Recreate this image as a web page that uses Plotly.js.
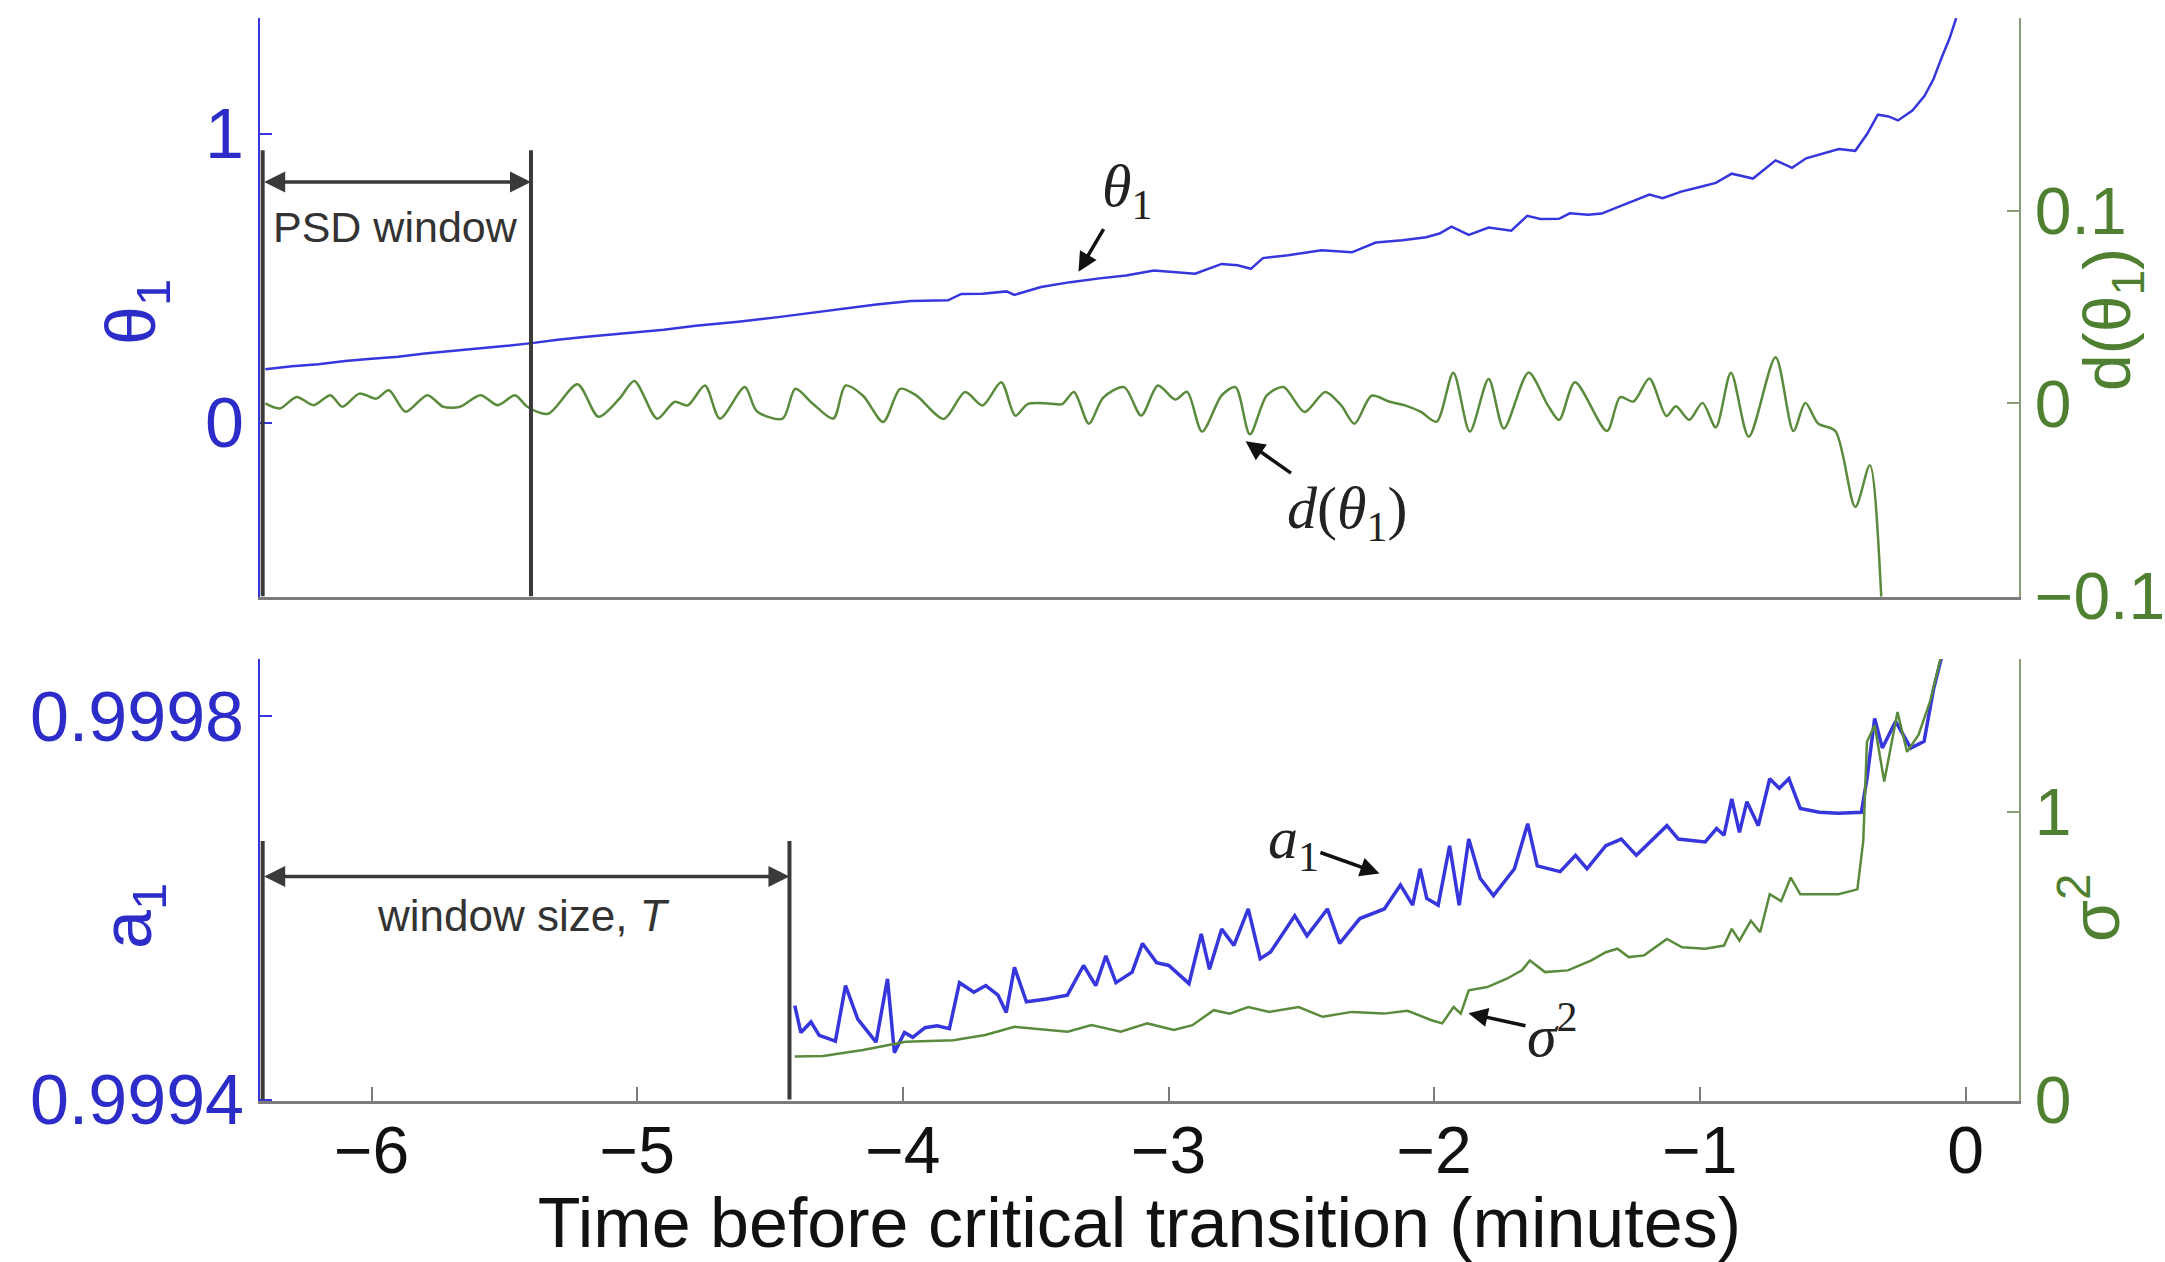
<!DOCTYPE html>
<html>
<head>
<meta charset="utf-8">
<script src="https://cdn.plot.ly/plotly-3.0.1.min.js"></script>
<style>html,body{margin:0;padding:0;background:#fff;}#chart{width:2165px;height:1262px;}</style>
</head>
<body>
<div id="chart"></div>
<script>
// ---- data ----
const thetaTime = [-6.40,-6.30,-6.20,-6.10,-6.00,-5.90,-5.80,-5.70,-5.60,-5.50,-5.39,-5.30,-5.20,-5.10,-5.02,-4.90,-4.78,-4.70,-4.62,-4.47,-4.35,-4.23,-4.10,-3.97,-3.83,-3.78,-3.70,-3.61,-3.58,-3.48,-3.37,-3.26,-3.16,-3.055,-2.97,-2.90,-2.80,-2.74,-2.69,-2.645,-2.55,-2.424,-2.31,-2.22,-2.12,-2.03,-1.98,-1.935,-1.87,-1.795,-1.71,-1.65,-1.60,-1.53,-1.49,-1.42,-1.37,-1.28,-1.19,-1.14,-1.07,-1.00,-0.94,-0.88,-0.80,-0.715,-0.653,-0.60,-0.54,-0.477,-0.415,-0.37,-0.33,-0.29,-0.254,-0.20,-0.154,-0.12,-0.09,-0.06,-0.035];
const theta1 = [0.186,0.196,0.203,0.214,0.222,0.229,0.240,0.248,0.258,0.266,0.277,0.288,0.297,0.305,0.312,0.322,0.336,0.342,0.350,0.366,0.380,0.395,0.410,0.422,0.424,0.446,0.447,0.455,0.443,0.470,0.487,0.500,0.510,0.527,0.522,0.516,0.550,0.545,0.533,0.570,0.580,0.597,0.590,0.624,0.632,0.642,0.655,0.679,0.650,0.676,0.665,0.716,0.705,0.706,0.725,0.720,0.724,0.757,0.790,0.777,0.800,0.816,0.830,0.862,0.845,0.908,0.882,0.915,0.930,0.947,0.941,1.000,1.066,1.060,1.046,1.080,1.131,1.190,1.263,1.330,1.400];

const dTime = [-6.40,-6.346,-6.282,-6.218,-6.155,-6.11,-6.046,-5.982,-5.935,-5.872,-5.79,-5.73,-5.667,-5.59,-5.525,-5.46,-5.414,-5.335,-5.225,-5.146,-5.067,-5.011,-4.925,-4.86,-4.81,-4.745,-4.689,-4.595,-4.55,-4.453,-4.405,-4.34,-4.262,-4.216,-4.15,-4.074,-4.01,-3.95,-3.846,-3.766,-3.70,-3.63,-3.577,-3.53,-3.45,-3.40,-3.356,-3.30,-3.246,-3.167,-3.103,-3.04,-2.975,-2.93,-2.874,-2.80,-2.748,-2.694,-2.63,-2.567,-2.488,-2.41,-2.35,-2.30,-2.236,-2.17,-2.11,-2.05,-1.991,-1.928,-1.866,-1.795,-1.738,-1.645,-1.572,-1.53,-1.47,-1.35,-1.30,-1.25,-1.19,-1.126,-1.09,-1.04,-0.99,-0.94,-0.883,-0.816,-0.715,-0.648,-0.603,-0.555,-0.49,-0.415,-0.36,-0.317,-0.31];
const dTheta1 = [0.0000,-0.0026,0.0034,-0.0009,0.0043,-0.0017,0.0051,0.0025,0.0068,-0.0043,0.0043,-0.0017,-0.0017,0.0043,-0.0009,0.0043,-0.0017,-0.0053,0.0100,-0.0069,0.0025,0.0117,-0.0079,0.0008,-0.0010,0.0093,-0.0079,0.0085,-0.0040,-0.0079,0.0076,0.0000,-0.0079,0.0093,0.0040,-0.0096,0.0076,0.0042,-0.0080,0.0059,-0.0010,0.0110,-0.0063,-0.0003,0.0000,-0.0003,0.0060,-0.0105,0.0030,0.0085,-0.0063,0.0093,0.0020,0.0060,-0.0146,0.0042,0.0085,-0.0160,0.0042,0.0085,-0.0044,0.0060,-0.0010,-0.0105,0.0040,0.0010,-0.0010,-0.0044,-0.0095,0.0160,-0.0146,0.0127,-0.0130,0.0160,-0.0010,-0.0085,0.0110,-0.0143,0.0033,0.0010,0.0130,-0.0065,-0.0015,-0.0085,0.0003,-0.0124,0.0160,-0.0173,0.0240,-0.0143,0.0003,-0.0104,-0.0143,-0.0537,-0.0320,-0.1004,-0.1300];

const aTime = [-4.407,-4.384,-4.346,-4.315,-4.254,-4.216,-4.17,-4.131,-4.101,-4.058,-4.032,-3.994,-3.963,-3.917,-3.871,-3.825,-3.787,-3.733,-3.688,-3.642,-3.611,-3.58,-3.535,-3.458,-3.381,-3.32,-3.274,-3.236,-3.198,-3.137,-3.098,-3.045,-2.999,-2.923,-2.877,-2.846,-2.80,-2.754,-2.70,-2.655,-2.616,-2.525,-2.479,-2.402,-2.356,-2.28,-2.188,-2.127,-2.081,-2.053,-2.028,-1.985,-1.942,-1.906,-1.87,-1.827,-1.777,-1.698,-1.648,-1.612,-1.526,-1.468,-1.425,-1.354,-1.296,-1.239,-1.124,-1.081,-0.98,-0.937,-0.909,-0.88,-0.851,-0.823,-0.78,-0.737,-0.701,-0.665,-0.622,-0.55,-0.478,-0.392,-0.371,-0.342,-0.313,-0.263,-0.206,-0.156,-0.12,-0.091,-0.08];
const a1 = [0.999498,0.999470,0.999481,0.999467,0.999461,0.999519,0.999484,0.999470,0.999460,0.999526,0.999449,0.999470,0.999465,0.999475,0.999477,0.999474,0.999522,0.999512,0.999519,0.999509,0.999491,0.999538,0.999502,0.999505,0.999509,0.999540,0.999519,0.999550,0.999522,0.999533,0.999563,0.999543,0.999540,0.999521,0.999573,0.999536,0.999578,0.999561,0.999599,0.999547,0.999554,0.999592,0.999571,0.999599,0.999563,0.999589,0.999599,0.999624,0.999603,0.999641,0.999610,0.999603,0.999665,0.999603,0.999672,0.999631,0.999613,0.999641,0.999688,0.999644,0.999638,0.999655,0.999641,0.999665,0.999672,0.999655,0.999686,0.999672,0.999669,0.999683,0.999676,0.999714,0.999679,0.999711,0.999686,0.999735,0.999725,0.999735,0.999704,0.999700,0.999699,0.999700,0.999735,0.999798,0.999767,0.999795,0.999767,0.999774,0.999829,0.999861,0.999900];

const sTime = [-4.407,-4.30,-4.15,-3.99,-3.81,-3.69,-3.58,-3.38,-3.29,-3.18,-3.08,-2.98,-2.91,-2.83,-2.77,-2.70,-2.62,-2.51,-2.42,-2.31,-2.19,-2.10,-2.01,-1.97,-1.927,-1.90,-1.87,-1.80,-1.727,-1.67,-1.64,-1.583,-1.497,-1.41,-1.354,-1.31,-1.268,-1.21,-1.124,-1.067,-0.98,-0.909,-0.88,-0.851,-0.808,-0.773,-0.737,-0.694,-0.658,-0.622,-0.478,-0.407,-0.385,-0.371,-0.342,-0.306,-0.256,-0.22,-0.177,-0.134,-0.091];
const sigma2 = [0.151,0.153,0.174,0.202,0.208,0.226,0.254,0.237,0.260,0.237,0.266,0.243,0.260,0.312,0.300,0.323,0.306,0.323,0.289,0.306,0.300,0.310,0.277,0.266,0.323,0.300,0.381,0.392,0.421,0.450,0.484,0.444,0.450,0.484,0.513,0.525,0.496,0.502,0.559,0.530,0.525,0.536,0.594,0.553,0.622,0.582,0.714,0.690,0.772,0.714,0.714,0.731,0.898,1.243,1.300,1.105,1.346,1.208,1.267,1.381,1.543];

const xTicks = [-6,-5,-4,-3,-2,-1,0];
const thetaTicks = [0,1];
const dTicks = [-0.1,0,0.1];
const aTicks = [0.9994,0.9998];
const sTicks = [0,1];

const psdWindow = [-6.41,-5.40];
const windowT = [-6.41,-4.427];

// ---- styling ----
const BLUE = '#3636dc', BLUE_T = '#2c2cc8';
const GREEN = '#5a8a3c', GREEN_T = '#4f8032', GREEN_AX = '#8a9c7a';
const GRAY = '#7c7c7c', DARK = '#3a3a3a';
const SANS = 'Liberation Sans, Arial, Helvetica, sans-serif';
const SERIF = 'Liberation Serif, Times New Roman, serif';

const xDom = [0.1201, 0.9324];
const topDom = [0.5273, 0.9857];
const botDom = [0.1276, 0.4778];
const xRange = [-6.42, 0.2];

const traces = [
  {x: thetaTime, y: theta1, xaxis:'x', yaxis:'y', mode:'lines', line:{color:BLUE, width:2.5}, name:'θ1'},
  {x: dTime, y: dTheta1, xaxis:'x', yaxis:'y2', mode:'lines', line:{color:GREEN, width:2.5, shape:'spline', smoothing:0.8}, name:'d(θ1)'},
  {x: aTime, y: a1, xaxis:'x2', yaxis:'y3', mode:'lines', line:{color:BLUE, width:3.5}, name:'a1'},
  {x: sTime, y: sigma2, xaxis:'x2', yaxis:'y4', mode:'lines', line:{color:GREEN, width:2.5}, name:'σ2'}
];

function yAx(o){
  return Object.assign({ticks:'inside', ticklen:12, tickwidth:2, showline:true, linewidth:2,
    zeroline:false, showgrid:false, fixedrange:true}, o);
}

function label(xr, yr, hx, hy, tx, ty, text){
  return {xref:xr, yref:yr, axref:xr, ayref:yr, x:hx, y:hy, ax:tx, ay:ty, text:text, showarrow:true,
    arrowhead:2, arrowsize:1.1, arrowwidth:3.5, arrowcolor:'#111', standoff:0,
    font:{size:60, color:'#222', family:SERIF}};
}

const layout = {
  width:2165, height:1262,
  margin:{l:0, r:0, t:0, b:0},
  paper_bgcolor:'#ffffff', plot_bgcolor:'rgba(0,0,0,0)',
  showlegend:false,
  font:{family:SANS, color:'#111'},
  xaxis:{domain:xDom, range:xRange, anchor:'y', showticklabels:false, ticks:'',
    showline:true, linecolor:GRAY, linewidth:3, zeroline:false, showgrid:false},
  yaxis: yAx({domain:topDom, range:[-0.6,1.4], anchor:'x', tickvals:thetaTicks,
    tickcolor:BLUE, linecolor:BLUE, tickfont:{size:70, color:BLUE_T, family:SANS}, ticklabelstandoff:0}),
  yaxis2: yAx({overlaying:'y', side:'right', anchor:'x', range:[-0.1002,0.2], tickvals:dTicks,
    tickcolor:GREEN_AX, linecolor:GREEN_AX, tickfont:{size:66, color:GREEN_T, family:SANS}, ticklabelstandoff:1}),
  xaxis2:{domain:xDom, range:xRange, anchor:'y3', tickvals:xTicks, ticks:'inside', ticklen:14, tickwidth:2,
    tickcolor:GRAY, showline:true, linecolor:GRAY, linewidth:3, zeroline:false, showgrid:false,
    tickfont:{size:66, color:'#111', family:SANS}, ticklabelstandoff:-10,
    title:{text:'Time before critical transition (minutes)', font:{size:70, color:'#111', family:SANS}, standoff:38}},
  yaxis3: yAx({domain:botDom, range:[0.9993985,0.99986], anchor:'x2', tickvals:aTicks, tickformat:'.4f',
    tickcolor:BLUE, linecolor:BLUE, tickfont:{size:70, color:BLUE_T, family:SANS}, ticklabelstandoff:0}),
  yaxis4: yAx({overlaying:'y3', side:'right', anchor:'x2', range:[-0.003,1.53], tickvals:sTicks,
    tickcolor:GREEN_AX, linecolor:GREEN_AX, tickfont:{size:66, color:GREEN_T, family:SANS}, ticklabelstandoff:1}),
  shapes:[
    {type:'line', xref:'x', yref:'y', x0:psdWindow[0], x1:psdWindow[0], y0:-0.6, y1:0.943, line:{color:DARK, width:4}},
    {type:'line', xref:'x', yref:'y', x0:psdWindow[1], x1:psdWindow[1], y0:-0.6, y1:0.943, line:{color:DARK, width:4}},
    {type:'line', xref:'x2', yref:'y3', x0:windowT[0], x1:windowT[0], y0:0.9994, y1:0.99967, line:{color:DARK, width:4}},
    {type:'line', xref:'x2', yref:'y3', x0:windowT[1], x1:windowT[1], y0:0.9994, y1:0.99967, line:{color:DARK, width:4}}
  ],
  annotations:[
    // axis titles
    {xref:'paper', yref:'paper', x:136/2165, y:1-312/1262, xanchor:'center', yanchor:'middle', text:'θ<sub>1</sub>', textangle:-90, showarrow:false,
      font:{size:70, color:BLUE_T, family:SANS}},
    {xref:'paper', yref:'paper', x:2112/2165, y:1-320/1262, xanchor:'center', yanchor:'middle', text:'d(θ<sub>1</sub>)', textangle:-90, showarrow:false,
      font:{size:66, color:GREEN_T, family:SANS}},
    {xref:'paper', yref:'paper', x:132/2165, y:1-916/1262, xanchor:'center', yanchor:'middle', text:'a<sub>1</sub>', textangle:-90, showarrow:false,
      font:{size:70, color:BLUE_T, family:SANS}},
    {xref:'paper', yref:'paper', x:2090/2165, y:1-908/1262, xanchor:'center', yanchor:'middle', text:'σ<sup>2</sup>', textangle:-90, showarrow:false,
      font:{size:68, color:GREEN_T, family:SANS}},
    // window arrows
    {xref:'x', yref:'y', axref:'x', ayref:'y', x:psdWindow[1], y:0.833, ax:psdWindow[0], ay:0.833, text:'',
      showarrow:true, arrowside:'end+start', arrowhead:2, startarrowhead:2, arrowsize:1.2, startarrowsize:1.2,
      arrowwidth:3.5, arrowcolor:DARK, standoff:0, startstandoff:0},
    {xref:'x', yref:'y', x:-5.91, y:0.677, text:'PSD window', showarrow:false, font:{size:43, color:'#333', family:SANS}},
    {xref:'x2', yref:'y3', axref:'x2', ayref:'y3', x:windowT[1], y:0.999633, ax:windowT[0], ay:0.999633, text:'',
      showarrow:true, arrowside:'end+start', arrowhead:2, startarrowhead:2, arrowsize:1.2, startarrowsize:1.2,
      arrowwidth:3.5, arrowcolor:DARK, standoff:0, startstandoff:0},
    {xref:'x2', yref:'y3', x:-5.43, y:0.999592, text:'window size, <i>T</i>', showarrow:false, font:{size:44, color:'#333', family:SANS}},
    // series labels with their arrows
    label('x', 'y', -3.339, 0.523, -3.158, 0.805, '<i>θ</i><sub>1</sub>'),
    label('x', 'y', -2.71, -0.063, -2.33, -0.308, '<i>d</i>(<i>θ</i><sub>1</sub>)'),
    label('x2', 'y3', -2.206, 0.999636, -2.53, 0.999668, '<i>a</i><sub>1</sub>'),
    label('x2', 'y3', -1.871, 0.99949, -1.555, 0.999471, '<i>σ</i><sup>2</sup>')
  ]
};

Plotly.newPlot('chart', traces, layout, {staticPlot:true, displayModeBar:false});
</script>
</body>
</html>
